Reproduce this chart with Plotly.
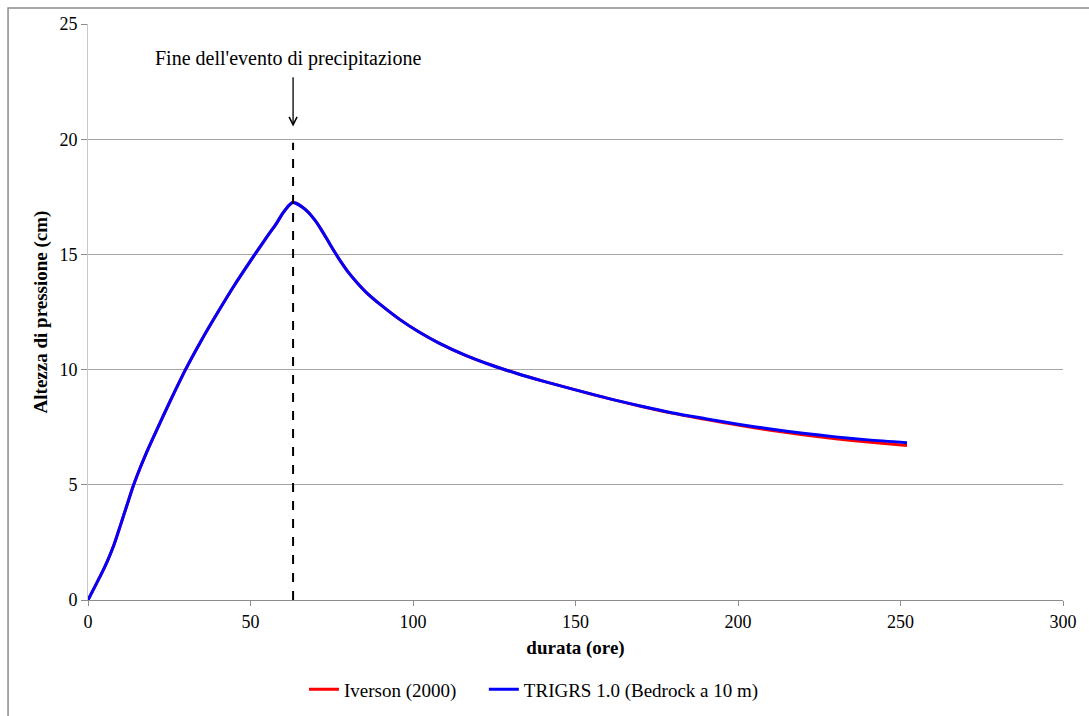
import plotly.graph_objects as go

# Durata (ore) e altezza di pressione (cm)
ore = [0, 2, 4, 6, 8, 10, 12, 14, 16, 18, 20, 25, 30, 35, 40, 45, 50, 55, 58, 60,
       62, 63, 64, 66, 68, 70, 72, 74, 76, 78, 80, 83, 86, 90, 96, 102, 108, 116,
       124, 132, 140, 150, 160, 170, 180, 190, 200, 210, 220, 230, 240, 252]

trigrs = [0, 0.55, 1.1, 1.7, 2.4, 3.25, 4.12, 4.98, 5.72, 6.4, 7.03, 8.55,
          10.0, 11.3, 12.5, 13.65, 14.72, 15.75, 16.35, 16.8, 17.15, 17.25, 17.22,
          17.05, 16.8, 16.45, 16.02, 15.55, 15.08, 14.64, 14.24, 13.74, 13.3, 12.82,
          12.17, 11.62, 11.15, 10.63, 10.2, 9.83, 9.5, 9.12, 8.75, 8.42, 8.12, 7.87,
          7.63, 7.42, 7.24, 7.08, 6.95, 6.83]

iverson = [0, 0.55, 1.1, 1.7, 2.4, 3.25, 4.12, 4.98, 5.72, 6.4, 7.03, 8.55,
           10.0, 11.3, 12.5, 13.65, 14.72, 15.75, 16.35, 16.8, 17.15, 17.25, 17.22,
           17.05, 16.8, 16.45, 16.02, 15.55, 15.08, 14.64, 14.24, 13.74, 13.3, 12.82,
           12.17, 11.62, 11.15, 10.63, 10.2, 9.83, 9.5, 9.12, 8.75, 8.41, 8.1, 7.84,
           7.59, 7.37, 7.17, 7.0, 6.86, 6.71]

fine_evento = 63.1          # ore, fine della pioggia
x_ticks = [0, 50, 100, 150, 200, 250, 300]
y_ticks = [0, 5, 10, 15, 20, 25]

SERIF = "Liberation Serif, Times New Roman, serif"
GRID = "#a6a6a6"

fig = go.Figure()
fig.add_trace(go.Scatter(x=ore, y=iverson, mode="lines", name="Iverson (2000)",
                         legend="legend",
                         line=dict(color="#ff0000", width=3, shape="spline", smoothing=0.8)))
fig.add_trace(go.Scatter(x=ore, y=trigrs, mode="lines", name="TRIGRS 1.0 (Bedrock a 10 m)",
                         legend="legend2",
                         line=dict(color="#0000ff", width=3, shape="spline", smoothing=0.8)))

# linea tratteggiata alla fine dell'evento
fig.add_shape(type="line", xref="x", yref="y", x0=fine_evento, x1=fine_evento,
              y0=0, y1=19.85, line=dict(color="black", width=2, dash="dash"))

# freccia ed etichetta
fig.add_annotation(x=fine_evento, y=20.55, ax=fine_evento, ay=22.75,
                   xref="x", yref="y", axref="x", ayref="y", text="",
                   showarrow=True, arrowhead=5, arrowsize=1.2, arrowwidth=1.3,
                   arrowcolor="black")
fig.add_annotation(x=61.5, y=23.5, xref="x", yref="y",
                   text="Fine dell'evento di precipitazione", showarrow=False,
                   font=dict(family=SERIF, size=20, color="black"))

# cornice esterna del grafico (visibile a sinistra e in alto)
fig.add_shape(type="rect", xref="paper", yref="paper", x0=-0.082, x1=1.04,
              y0=-0.22, y1=1.0278, line=dict(color="#8c8c8c", width=1.5))

legend_style = dict(orientation="h", xanchor="left", yref="container", y=0.037,
                    yanchor="middle", font=dict(family=SERIF, size=19), itemwidth=30)

fig.update_layout(
    width=1089, height=716,
    margin=dict(l=88, r=26, t=24, b=116, autoexpand=False),
    paper_bgcolor="white", plot_bgcolor="white",
    font=dict(family=SERIF, size=18, color="black"),
    showlegend=True,
    legend=dict(x=0.2215, **legend_style),
    legend2=dict(x=0.406, **legend_style),
    xaxis=dict(range=[0, 300], tickvals=x_ticks, showgrid=False, zeroline=False,
               showline=True, linecolor="#8c8c8c", linewidth=1,
               ticks="outside", ticklen=5, tickcolor="#8c8c8c",
               tickfont=dict(family=SERIF, size=18),
               title=dict(text="<b>durata (ore)</b>", font=dict(family=SERIF, size=19),
                          standoff=10)),
    yaxis=dict(range=[0, 25], tickvals=y_ticks, showgrid=True, gridcolor=GRID,
               gridwidth=1, zeroline=False, showline=True, linecolor="#c8c8c8",
               linewidth=1, ticks="outside", ticklen=6, tickcolor="#8c8c8c",
               tickfont=dict(family=SERIF, size=18),
               title=dict(text="<b>Altezza di pressione (cm)</b>",
                          font=dict(family=SERIF, size=19), standoff=6)),
)

fig.write_html("out.html")
